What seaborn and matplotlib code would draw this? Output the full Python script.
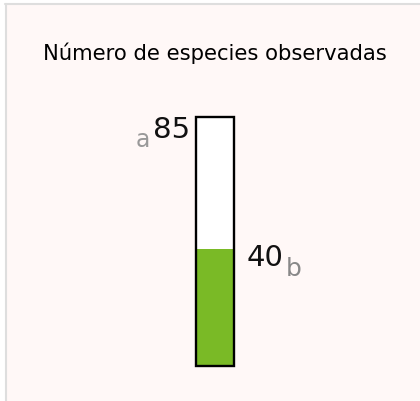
import matplotlib
matplotlib.use("Agg")
import matplotlib.pyplot as plt
import seaborn as sns
import pandas as pd
from matplotlib.patches import Rectangle
from matplotlib.lines import Line2D

sns.set_theme(style="white")
plt.rcParams['font.family'] = ['DejaVu Sans']

title = "Número de especies observadas"
category = ["especies"]
total_values = [85]
observed_values = [40]
total_label = "a"
observed_label = "b"

df = pd.DataFrame({"cat": category, "total": total_values, "obs": observed_values})

W, H = 420, 401
fig = plt.figure(figsize=(W / 100, H / 100), dpi=100)
fig.patch.set_facecolor("white")

# panel background and border
fig.patches.append(Rectangle((5 / W, 0), 1 - 5 / W, 1 - 3 / H, transform=fig.transFigure,
                             facecolor="#fff8f7", edgecolor="none", zorder=-5))
fig.lines.append(Line2D([5 / W, 1], [1 - 3.5 / H, 1 - 3.5 / H], transform=fig.transFigure,
                        color="#dedede", lw=1.5, zorder=-4))
fig.lines.append(Line2D([5.5 / W, 5.5 / W], [0, 1 - 3.5 / H], transform=fig.transFigure,
                        color="#dedede", lw=1.5, zorder=-4))

fig.text(215 / W, 1 - 60 / H, title, ha="center", va="baseline", fontsize=15.2,
         color="black")

ax = fig.add_axes([196 / W, (H - 366) / H, 38 / W, (366 - 117) / H])
ax.set_facecolor("none")
sns.barplot(data=df, x="cat", y="total", ax=ax, color="white", edgecolor="none",
            linewidth=0, width=1.0, saturation=1)
sns.barplot(data=df, x="cat", y="obs", ax=ax, color="#7aba26", edgecolor="none",
            linewidth=0, width=1.0, saturation=1)
p0 = ax.patches[0]
ax.add_patch(Rectangle(p0.get_xy(), p0.get_width(), p0.get_height(), fill=False,
                       edgecolor="black", linewidth=1.7, zorder=5, clip_on=False))
ax.set_xlim(-0.5, 0.5)
ax.set_ylim(0, 85)
ax.axis("off")

ax.annotate(f"{total_values[0]}", xy=(-0.5, total_values[0]), xytext=(-6, -21),
            textcoords="offset pixels", ha="right", va="baseline", fontsize=21, color="#111111",
            annotation_clip=False)
ax.annotate(total_label, xy=(-0.5, total_values[0]), xytext=(-46, -30),
            textcoords="offset pixels", ha="right", va="baseline", fontsize=17, color="#999999",
            annotation_clip=False)
ax.annotate(f"{observed_values[0]}", xy=(0.5, observed_values[0]), xytext=(13, -17),
            textcoords="offset pixels", ha="left", va="baseline", fontsize=21, color="#111111",
            annotation_clip=False)
ax.annotate(observed_label, xy=(0.5, observed_values[0]), xytext=(52, -27),
            textcoords="offset pixels", ha="left", va="baseline", fontsize=18, color="#888888",
            annotation_clip=False)

fig.savefig("out.png", dpi=100)
